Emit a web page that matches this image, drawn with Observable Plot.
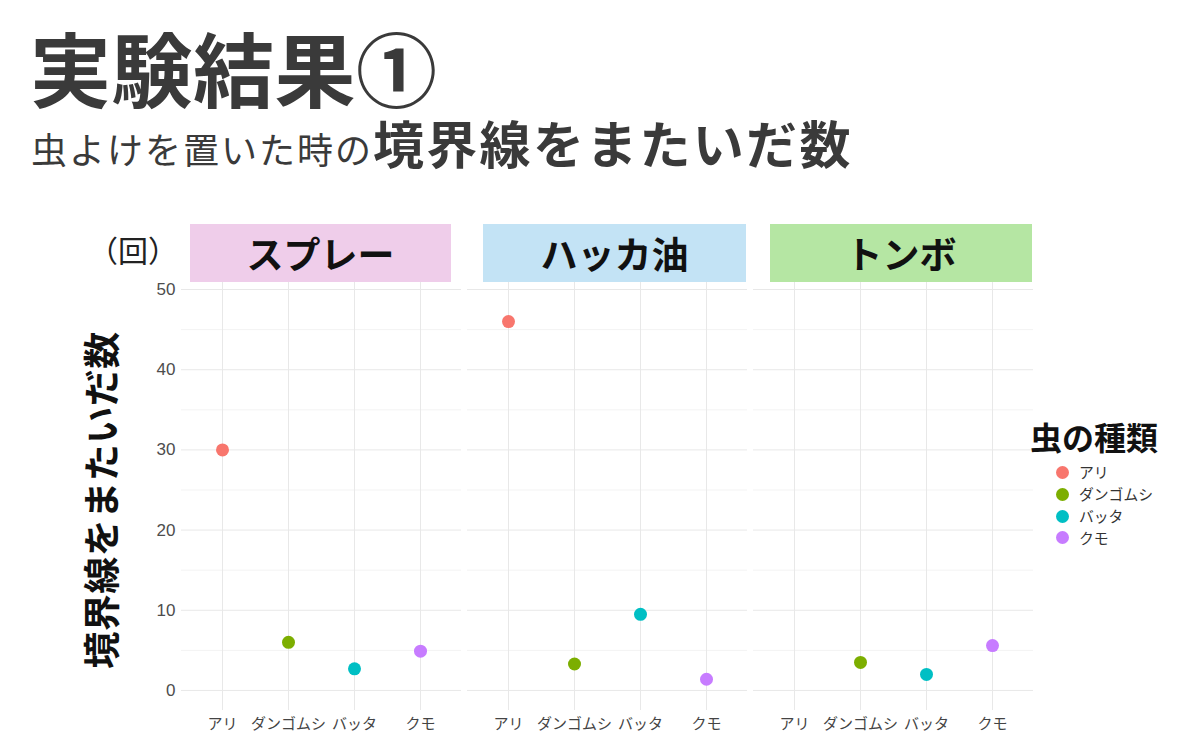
<!DOCTYPE html>
<html><head><meta charset="utf-8">
<script src="https://cdn.jsdelivr.net/npm/d3@7"></script>
<script src="https://cdn.jsdelivr.net/npm/@observablehq/plot@0.6"></script>
<style>
body{margin:0;background:#fff;}
#wrap{position:relative;width:1200px;height:744px;overflow:hidden;font-family:"Noto Sans CJK JP","Noto Sans",sans-serif;color:#3a3a3a;}
.abs{position:absolute;white-space:nowrap;line-height:1;}
#title{left:30px;top:25px;font-size:81px;font-weight:700;color:#3a3a3a;letter-spacing:0.5px;}
#subtitle{left:31px;top:117px;color:#3a3a3a;line-height:1;}
#subtitle .r{font-size:36px;font-weight:400;letter-spacing:2px;}
#subtitle .b{font-size:51px;font-weight:700;letter-spacing:2.3px;}
.strip{position:absolute;display:flex;align-items:center;justify-content:center;font-size:37px;font-weight:700;color:#111;line-height:1;}
#ylab{left:100px;top:500px;transform:translate(-50%,-50%) rotate(-90deg);font-size:37px;font-weight:700;color:#111;letter-spacing:0.5px;}
#unit{left:88px;top:234px;font-size:30px;color:#222;}
#plot{position:absolute;left:0;top:269px;}
#plot svg g[aria-label^="y-axis"] text{font-family:"Liberation Sans",Arial,sans-serif;font-size:17px;fill:#4d4d4d;}
#plot svg g[aria-label^="x-axis"] text{font-family:"Noto Sans CJK JP",sans-serif;font-size:15px;fill:#444;}
#legend{position:absolute;left:1030px;top:420px;line-height:1;}
#legend .t{font-size:32px;font-weight:700;color:#111;line-height:1;margin-bottom:10px;}
#legend .row{display:flex;align-items:center;height:21.7px;font-size:14.8px;line-height:1;color:#333;margin-left:26px;}
#legend .sw{width:13px;height:13px;border-radius:50%;margin-right:10px;flex:none;}
</style></head><body><div id="wrap"></div>
<script>
const treatments = ["スプレー", "ハッカ油", "トンボ"];
const stripColors = ["#efcdea", "#c3e3f5", "#b5e6a3"];
const insects = ["アリ", "ダンゴムシ", "バッタ", "クモ"];
const insectColors = ["#F8766D", "#7CAE00", "#00BFC4", "#C77CFF"];
const sprayValues = [30, 6, 2.7, 4.9];
const hakkaValues = [46, 3.3, 9.5, 1.4];
const tonboValues = [null, 3.5, 2, 5.6];
const yTicks = [0, 10, 20, 30, 40, 50];
const yMinor = [5, 15, 25, 35, 45];
const titleText = "実験結果①";
const subtitleRegular = "虫よけを置いた時の";
const subtitleBold = "境界線をまたいだ数";
const yLabel = "境界線をまたいだ数";
const unitLabel = "（回）";
const legendTitle = "虫の種類";

const valuesByTreatment = [sprayValues, hakkaValues, tonboValues];
const rows = [];
treatments.forEach((t, i) => {
  insects.forEach((ins, j) => {
    const v = valuesByTreatment[i][j];
    if (v != null) rows.push({treatment: t, insect: ins, value: v});
  });
});

const wrap = document.getElementById("wrap");
function add(html){ wrap.insertAdjacentHTML("beforeend", html); }

// layout constants
const W = 1200, mL = 180, mR = 167, H = 475, mB = 34;

const plot = Plot.plot({
  width: W, height: H,
  marginLeft: mL, marginRight: mR, marginTop: 0, marginBottom: mB,
  facet: {data: rows, x: "treatment"},
  fx: {domain: treatments, axis: null, paddingInner: 0.0227, paddingOuter: 0, label: null},
  x: {type: "point", domain: insects, padding: 0.6, label: null, tickSize: 0, tickPadding: 8},
  y: {domain: [-2.5, 52.5], ticks: yTicks, label: null, tickSize: 0, tickPadding: 6},
  color: {domain: insects, range: insectColors},
  style: {background: "transparent", overflow: "visible"},
  marks: [
    Plot.ruleY(yMinor, {stroke: "#f3f3f3", strokeWidth: 1}),
    Plot.ruleY(yTicks, {stroke: "#e8e8e8", strokeWidth: 1}),
    Plot.ruleX(insects, {stroke: "#e8e8e8", strokeWidth: 1}),
    Plot.dot(rows, {x: "insect", y: "value", fill: "insect", r: 6.5, stroke: null})
  ]
});
const holder = document.createElement("div");
holder.id = "plot";
holder.appendChild(plot);
wrap.appendChild(holder);

add(`<div class="abs" id="title">${titleText}</div>`);
add(`<div class="abs" id="subtitle"><span class="r">${subtitleRegular}</span><span class="b">${subtitleBold}</span></div>`);
add(`<div class="abs" id="unit">${unitLabel}</div>`);
add(`<div class="abs" id="ylab">${yLabel}</div>`);

// strips (overlay boxes above each facet)
const stripBoxes = [[190, 451], [483, 746], [770, 1032]];
treatments.forEach((t, i) => {
  const [a, b] = stripBoxes[i];
  add(`<div class="strip" style="left:${a}px;top:224px;width:${b - a}px;height:58px;background:${stripColors[i]}">${t}</div>`);
});

let leg = `<div id="legend"><div class="t">${legendTitle}</div>`;
insects.forEach((ins, i) => {
  leg += `<div class="row"><span class="sw" style="background:${insectColors[i]}"></span>${ins}</div>`;
});
leg += `</div>`;
add(leg);
</script>
</body></html>
